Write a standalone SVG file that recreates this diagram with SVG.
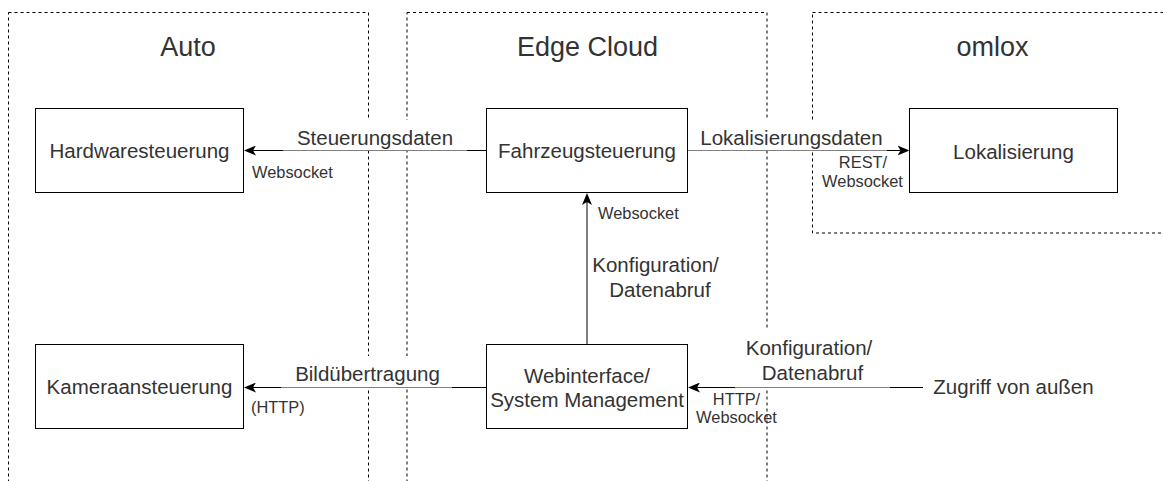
<svg xmlns="http://www.w3.org/2000/svg" width="1163" height="481" viewBox="0 0 1163 481">
  <style>
    .zone { fill: none; stroke: #000; stroke-width: 1; stroke-dasharray: 3 3; }
    .box { fill: #fff; stroke: #000; stroke-width: 1; }
    .edge { fill: none; stroke: #000; stroke-width: 1; marker-end: url(#arrow); }
    .lblbg { fill: #fff; stroke: none; }
    text { font-family: "Liberation Sans", Arial, sans-serif; fill: #333; }
    .title { font-size: 27px; text-anchor: middle; }
    .node { font-size: 20.5px; text-anchor: middle; }
    .lbl { font-size: 20.5px; text-anchor: middle; }
    .small { font-size: 16.4px; }
    .mid { text-anchor: middle; }
  </style>
  <defs>
    <marker id="arrow" viewBox="0 0 12 10" refX="3" refY="5" markerWidth="12" markerHeight="10" markerUnits="userSpaceOnUse" orient="auto">
      <path d="M0,0 L12,5 L0,10 L3,5 Z" fill="#000"/>
    </marker>
  </defs>

  <rect width="1163" height="481" fill="#fff"/>

  <!-- swimlane zones -->
  <g id="zone-auto">
    <rect class="zone" x="8.5" y="12.5" width="360" height="520"/>
    <text class="title" x="188" y="56">Auto</text>
  </g>
  <g id="zone-edge-cloud">
    <rect class="zone" x="407" y="12.5" width="360" height="520"/>
    <text class="title" x="587.5" y="56">Edge Cloud</text>
  </g>
  <g id="zone-omlox">
    <rect class="zone" x="812.5" y="12.5" width="400" height="220.5"/>
    <text class="title" x="992.5" y="56">omlox</text>
  </g>

  <!-- connectors -->
  <g id="connectors">
    <path class="edge" d="M486,150.5 L253,150.5"/>
    <path class="edge" d="M687.5,150.5 L900.5,150.5"/>
    <path class="edge" d="M587,345 L587,202"/>
    <path class="edge" d="M486,387.5 L253,387.5"/>
    <path class="edge" d="M923,387.5 L697,387.5"/>

    <!-- label backgrounds -->
    <rect class="lblbg" x="283" y="120" width="184" height="30.5"/>
    <rect class="lblbg" x="688" y="120" width="199" height="30.5"/>
    <rect class="lblbg" x="281" y="356" width="171" height="31.5"/>
    <rect class="lblbg" x="735" y="330" width="155" height="57.5"/>

    <text class="lbl" x="375" y="144.5">Steuerungsdaten</text>
    <text class="small" x="252" y="177.5">Websocket</text>

    <text class="lbl" x="791.5" y="144.5">Lokalisierungsdaten</text>
    <text class="small mid" x="863" y="168">REST/</text>
    <text class="small mid" x="862.5" y="187">Websocket</text>

    <text class="small" x="598" y="219">Websocket</text>
    <text class="lbl" x="655.5" y="271.5">Konfiguration/</text>
    <text class="lbl" x="660" y="296.5">Datenabruf</text>

    <text class="lbl" x="367.5" y="380.5">Bildübertragung</text>
    <text class="small" x="251" y="413">(HTTP)</text>

    <text class="lbl" x="809" y="355">Konfiguration/</text>
    <text class="lbl" x="812.5" y="380">Datenabruf</text>
    <text class="small mid" x="736.5" y="405">HTTP/</text>
    <text class="small mid" x="736.5" y="423">Websocket</text>
  </g>

  <!-- nodes -->
  <g id="hardwaresteuerung">
    <rect class="box" x="35.5" y="108.5" width="208" height="84"/>
    <text class="node" x="139.5" y="158">Hardwaresteuerung</text>
  </g>
  <g id="fahrzeugsteuerung">
    <rect class="box" x="486.5" y="108.5" width="201" height="84"/>
    <text class="node" x="587" y="158">Fahrzeugsteuerung</text>
  </g>
  <g id="lokalisierung">
    <rect class="box" x="909.5" y="108.5" width="208" height="84"/>
    <text class="node" x="1013.5" y="158.5">Lokalisierung</text>
  </g>
  <g id="kameraansteuerung">
    <rect class="box" x="35.5" y="344.5" width="208" height="84"/>
    <text class="node" x="139.5" y="394">Kameraansteuerung</text>
  </g>
  <g id="webinterface">
    <rect class="box" x="486.5" y="344.5" width="201" height="84"/>
    <text class="node" x="587" y="383">Webinterface/</text>
    <text class="node" x="587" y="407">System Management</text>
  </g>
  <g id="zugriff">
    <text class="node" x="1013.5" y="394">Zugriff von außen</text>
  </g>
</svg>
